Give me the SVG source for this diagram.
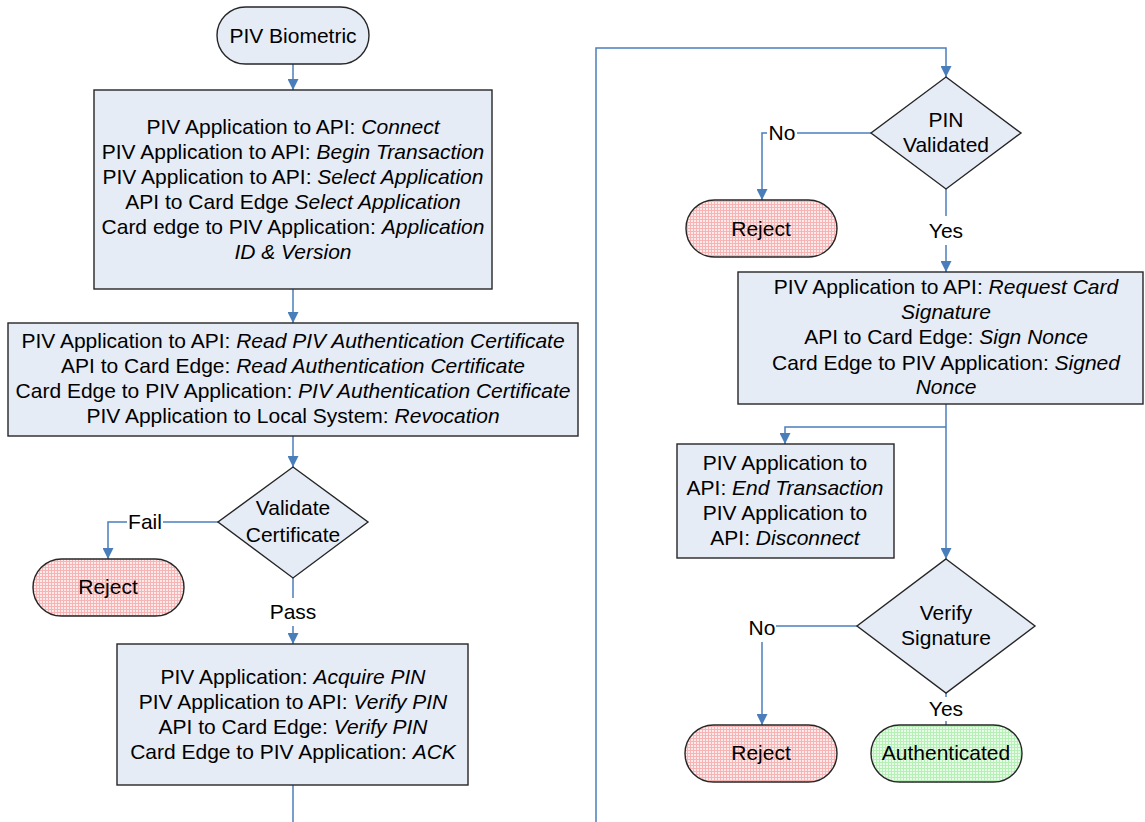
<svg xmlns="http://www.w3.org/2000/svg" width="1145" height="822" viewBox="0 0 1145 822">
<style>
text{font-family:"Liberation Sans",Arial,sans-serif;font-size:21px;fill:#000;text-anchor:middle}
.i{font-style:italic}
.box{fill:#e6ecf6;stroke:#262626;stroke-width:1.4}
.term{stroke:#262626;stroke-width:1.4}
.c{fill:none;stroke:#4a7ebb;stroke-width:1.5}
.a{marker-end:url(#arr)}
</style>
<defs>
<marker id="arr" markerUnits="userSpaceOnUse" markerWidth="11" markerHeight="11" refX="11" refY="5.5" orient="auto">
<path d="M0,0 L11,5.5 L0,11 z" fill="#4a7ebb"/>
</marker>
<pattern id="red" width="3" height="3" patternUnits="userSpaceOnUse">
<rect width="3" height="3" fill="#feeaea"/>
<rect width="3" height="1" fill="#f6b4b4"/>
<rect width="1" height="3" fill="#f6b4b4"/>
</pattern>
<pattern id="green" width="3" height="3" patternUnits="userSpaceOnUse">
<rect width="3" height="3" fill="#e8fde8"/>
<rect width="3" height="1" fill="#b6f0b6"/>
<rect width="1" height="3" fill="#b6f0b6"/>
</pattern>
</defs>
<rect width="1145" height="822" fill="#fff"/>

<g id="connectors">
<path class="c a" d="M293,64 V90"/>
<path class="c a" d="M293,289 V323"/>
<path class="c a" d="M293,436 V467"/>
<path class="c" d="M218,522 H163"/>
<path class="c a" d="M127,522 H108 V559"/>
<path class="c" d="M293,578 V598"/>
<path class="c a" d="M293,626 V644"/>
<path class="c" d="M293,785 V822"/>
<path class="c a" d="M596,822 V48 H946 V77"/>
<path class="c" d="M871,133 H797"/>
<path class="c a" d="M767,133 H762 V200"/>
<path class="c" d="M946,189 V216"/>
<path class="c a" d="M946,245 V272"/>
<path class="c a" d="M946,404 V559"/>
<path class="c a" d="M946,427 H785 V444"/>
<path class="c" d="M857,626 H776"/>
<path class="c a" d="M762,642 V725"/>
<path class="c" d="M946,693 V697"/>
<path class="c" d="M946,721 V725"/>
<text x="145" y="529">Fail</text>
<text x="293" y="619">Pass</text>
<text x="782" y="140">No</text>
<text x="946" y="238">Yes</text>
<text x="762" y="635">No</text>
<text x="946" y="716">Yes</text>
</g>

<g id="start">
<rect class="term" x="217" y="7" width="152" height="57" rx="28.5" fill="#e6ecf6"/>
<text x="293" y="43">PIV Biometric</text>
</g>

<g id="connect">
<rect class="box" x="94" y="90" width="398" height="199"/>
<text x="293" y="134">PIV Application to API: <tspan class="i">Connect</tspan></text>
<text x="293" y="159">PIV Application to API: <tspan class="i">Begin Transaction</tspan></text>
<text x="293" y="184">PIV Application to API: <tspan class="i">Select Application</tspan></text>
<text x="293" y="209">API to Card Edge <tspan class="i">Select Application</tspan></text>
<text x="293" y="234">Card edge to PIV Application: <tspan class="i">Application</tspan></text>
<text x="293" y="259" class="i">ID &amp; Version</text>
</g>

<g id="readcert">
<rect class="box" x="8" y="323" width="570" height="113"/>
<text x="293" y="348">PIV Application to API: <tspan class="i">Read PIV Authentication Certificate</tspan></text>
<text x="293" y="373">API to Card Edge: <tspan class="i">Read Authentication Certificate</tspan></text>
<text x="293" y="398">Card Edge to PIV Application: <tspan class="i">PIV Authentication Certificate</tspan></text>
<text x="293" y="423">PIV Application to Local System: <tspan class="i">Revocation</tspan></text>
</g>

<g id="validatecert">
<polygon class="box" points="293,467 368,522 293,578 218,522"/>
<text x="293" y="515">Validate</text>
<text x="293" y="542">Certificate</text>
</g>

<g id="reject1">
<rect class="term" x="33" y="559" width="151" height="57" rx="28.5" fill="url(#red)"/>
<text x="108" y="594">Reject</text>
</g>

<g id="pin">
<rect class="box" x="117" y="644" width="351" height="141"/>
<text x="293" y="684">PIV Application: <tspan class="i">Acquire PIN</tspan></text>
<text x="293" y="709">PIV Application to API: <tspan class="i">Verify PIN</tspan></text>
<text x="293" y="734">API to Card Edge: <tspan class="i">Verify PIN</tspan></text>
<text x="293" y="759">Card Edge to PIV Application: <tspan class="i">ACK</tspan></text>
</g>

<g id="pinvalidated">
<polygon class="box" points="946,77 1021,133 946,189 871,133"/>
<text x="946" y="127">PIN</text>
<text x="946" y="152">Validated</text>
</g>

<g id="reject2">
<rect class="term" x="686" y="200" width="151" height="57" rx="28.5" fill="url(#red)"/>
<text x="761" y="236">Reject</text>
</g>

<g id="signature">
<rect class="box" x="738" y="272" width="405" height="132"/>
<text x="946" y="294">PIV Application to API: <tspan class="i">Request Card</tspan></text>
<text x="946" y="319" class="i">Signature</text>
<text x="946" y="344">API to Card Edge: <tspan class="i">Sign Nonce</tspan></text>
<text x="946" y="370">Card Edge to PIV Application: <tspan class="i">Signed</tspan></text>
<text x="946" y="394" class="i">Nonce</text>
</g>

<g id="endtx">
<rect class="box" x="677" y="444" width="217" height="114"/>
<text x="785" y="470">PIV Application to</text>
<text x="785" y="495">API: <tspan class="i">End Transaction</tspan></text>
<text x="785" y="520">PIV Application to</text>
<text x="785" y="545">API: <tspan class="i">Disconnect</tspan></text>
</g>

<g id="verifysig">
<polygon class="box" points="946,559 1035,626 946,693 857,626"/>
<text x="946" y="620">Verify</text>
<text x="946" y="645">Signature</text>
</g>

<g id="reject3">
<rect class="term" x="685" y="725" width="152" height="57" rx="28.5" fill="url(#red)"/>
<text x="761" y="760">Reject</text>
</g>

<g id="authenticated">
<rect class="term" x="871" y="725" width="151" height="57" rx="28.5" fill="url(#green)"/>
<text x="946" y="760">Authenticated</text>
</g>
</svg>
